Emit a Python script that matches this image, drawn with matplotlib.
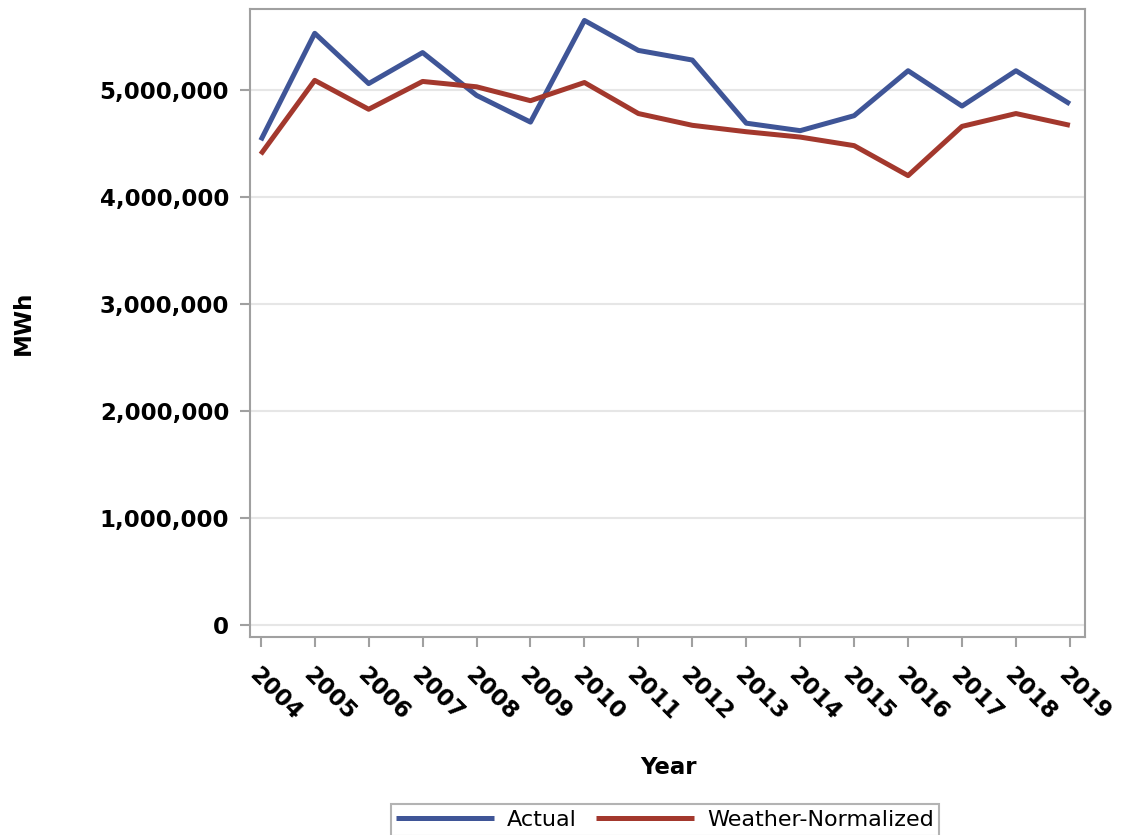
import matplotlib
matplotlib.use("Agg")
import matplotlib.pyplot as plt
from matplotlib.ticker import FuncFormatter

years = list(range(2004, 2020))
actual = [4530000, 5530000, 5060000, 5350000, 4950000, 4700000, 5650000, 5370000,
          5280000, 4690000, 4620000, 4760000, 5180000, 4850000, 5180000, 4870000]
weather_normalized = [4400000, 5090000, 4820000, 5080000, 5030000, 4900000, 5070000, 4780000,
                      4670000, 4610000, 4560000, 4480000, 4200000, 4660000, 4780000, 4670000]
yticks = [0, 1000000, 2000000, 3000000, 4000000, 5000000]

fig = plt.figure(figsize=(11.22, 8.35), dpi=100)
ax = fig.add_axes([250/1122, 1-637/835, (1085-250)/1122, (637-9)/835])

ax.plot(years, actual, color="#3F5597", lw=3.6, label="Actual", solid_capstyle="butt")
ax.plot(years, weather_normalized, color="#A3382D", lw=3.6, label="Weather-Normalized", solid_capstyle="butt")

ax.set_xlim(2003.8, 2019.28)
ax.set_ylim(-112000, 5757000)
ax.set_yticks(yticks)
ax.yaxis.set_major_formatter(FuncFormatter(lambda v, p: f"{int(v):,}"))
ax.set_xticks(years)
ax.set_xticklabels([str(y) for y in years], rotation=-45, ha="left", va="top",
                   rotation_mode="anchor", fontsize=16.5, fontweight="bold")
for lab in ax.get_yticklabels():
    lab.set_fontsize(16.5)
    lab.set_fontweight("bold")

ax.grid(axis="y", color="#E6E6E6", lw=1.5)
ax.set_axisbelow(True)
for s in ax.spines.values():
    s.set_color("#A0A0A0")
    s.set_linewidth(1.5)
ax.tick_params(axis="both", direction="out", length=7, width=1.5, color="#A0A0A0")
ax.tick_params(axis="x", pad=12)
ax.tick_params(axis="y", pad=8)

ax.set_ylabel("MWh", fontsize=16.5, fontweight="bold")
ax.yaxis.set_label_coords(-(250-35)/835, 0.5)
fig.text(668/1122, 1-768/835, "Year", fontsize=16.5, fontweight="bold", ha="center", va="center")

leg = fig.legend(loc="center", bbox_to_anchor=(665/1122, 1-820/835), ncol=2, fontsize=16,
                 frameon=True, fancybox=False, handlelength=4.4, columnspacing=0.85,
                 handletextpad=0.6, borderpad=0.25, borderaxespad=0)
leg.get_frame().set_edgecolor("#A0A0A0")
leg.get_frame().set_linewidth(1.5)

fig.savefig("out.png", dpi=100)
